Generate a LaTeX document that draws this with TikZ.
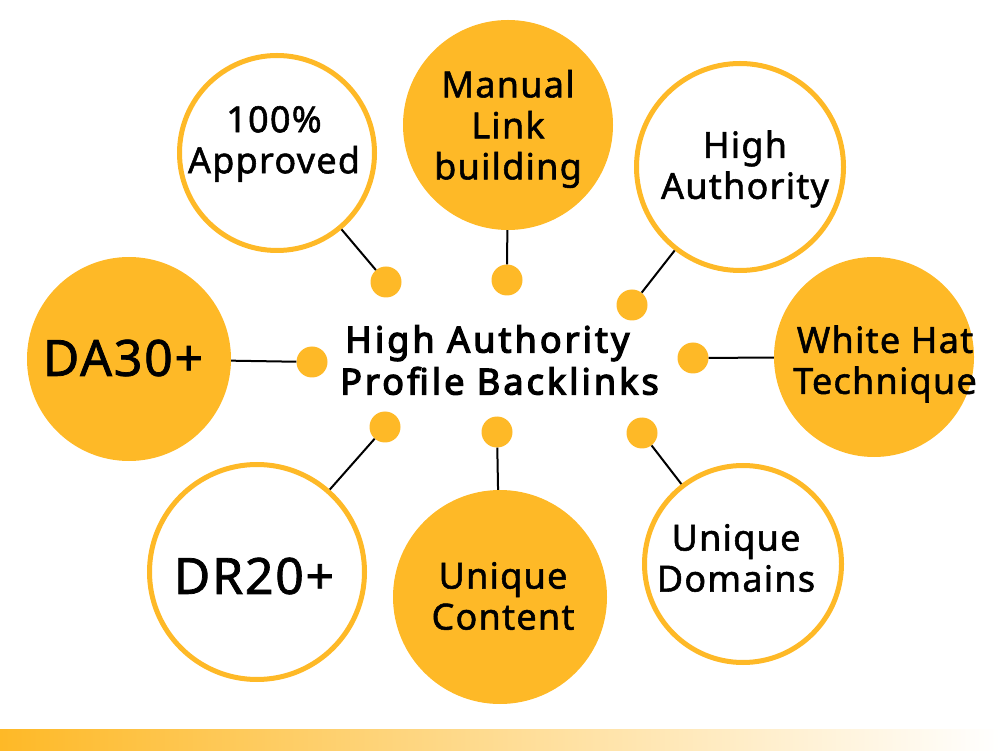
\documentclass[tikz,border=0pt]{standalone}
\usepackage{fontspec}
\setmainfont{Noto Sans}
\newfontfamily\medfont{Noto Sans}[FakeBold=1.5, LetterSpace=3.5]
\newfontfamily\hubfont{Noto Sans}[FakeBold=3.5, LetterSpace=8.5]
\definecolor{gold}{RGB}{254,185,39}

\begin{document}
\begin{tikzpicture}[x=1pt, y=1pt]
    \tikzstyle{filled} = [circle, fill=gold, inner sep=0pt]
    \tikzstyle{ring} = [circle, draw=gold, line width=5pt, fill=white, inner sep=0pt]
    \tikzstyle{dot} = [circle, fill=gold, minimum size=31pt, inner sep=0pt]
    \tikzstyle{txt} = [align=center, inner sep=0pt, font=\medfont\fontsize{36}{41}\selectfont]
    \tikzstyle{bigtxt} = [inner sep=0pt, font=\medfont\fontsize{50}{55}\selectfont]
    \tikzstyle{link} = [line width=2pt, black]

    \useasboundingbox (0,0) rectangle (1000,750);
    \shade [left color=gold, right color=white] (0,0) rectangle (1000,21);

    % outer circles
    \node (approved) [ring, minimum size=195pt] at (277,597) {};
    \node (manual) [filled, minimum size=210pt] at (508,625) {};
    \node (highauth) [ring, minimum size=207pt] at (740,583) {};
    \node (da) [filled, minimum size=204pt] at (129,391) {};
    \node (whitehat) [filled, minimum size=200pt] at (874,393) {};
    \node (dr) [ring, minimum size=215pt] at (257,178) {};
    \node (content) [filled, minimum size=214pt] at (500,153) {};
    \node (domains) [ring, minimum size=197pt] at (743,186) {};

    % texts
    \node (approvedtxt) [txt] at (274,606) {100\%\\Approved};
    \node (manualtxt) [txt] at (508,621) {Manual\\Link\\building};
    \node (highauthtxt) [txt] at (745,581) {High\\Authority};
    \node (datxt) [bigtxt] at (123,392) {DA30+};
    \node (whitehattxt) [txt] at (885,386) {White Hat\\Technique};
    \node (drtxt) [bigtxt] at (254,174) {DR20+};
    \node (contenttxt) [txt] at (503,154) {Unique\\Content};
    \node (domainstxt) [txt] at (736,192) {Unique\\Domains};

    \node (hub) [align=left, anchor=west, inner sep=0pt, font=\hubfont\fontsize{36}{42}\selectfont] at (340,390) {\hspace{5pt}High Authority\\Profile Backlinks};

    % dots
    \node (d1) [dot] at (386,468) {};
    \node (d2) [dot] at (507,470) {};
    \node (d3) [dot] at (632,445) {};
    \node (d4) [dot] at (312,388) {};
    \node (d5) [dot] at (693,392) {};
    \node (d6) [dot] at (385,323) {};
    \node (d7) [dot] at (497,318) {};
    \node (d8) [dot] at (642,317) {};

    % Lines
    \draw [link] (d1) -- (approved);
    \draw [link] (d2) -- (manual);
    \draw [link] (d3) -- (highauth);
    \draw [link] (d4) -- (da);
    \draw [link] (d5) -- (whitehat);
    \draw [link] (d6) -- (dr);
    \draw [link] (d7) -- (content);
    \draw [link] (d8) -- (domains);
\end{tikzpicture}
\end{document}
